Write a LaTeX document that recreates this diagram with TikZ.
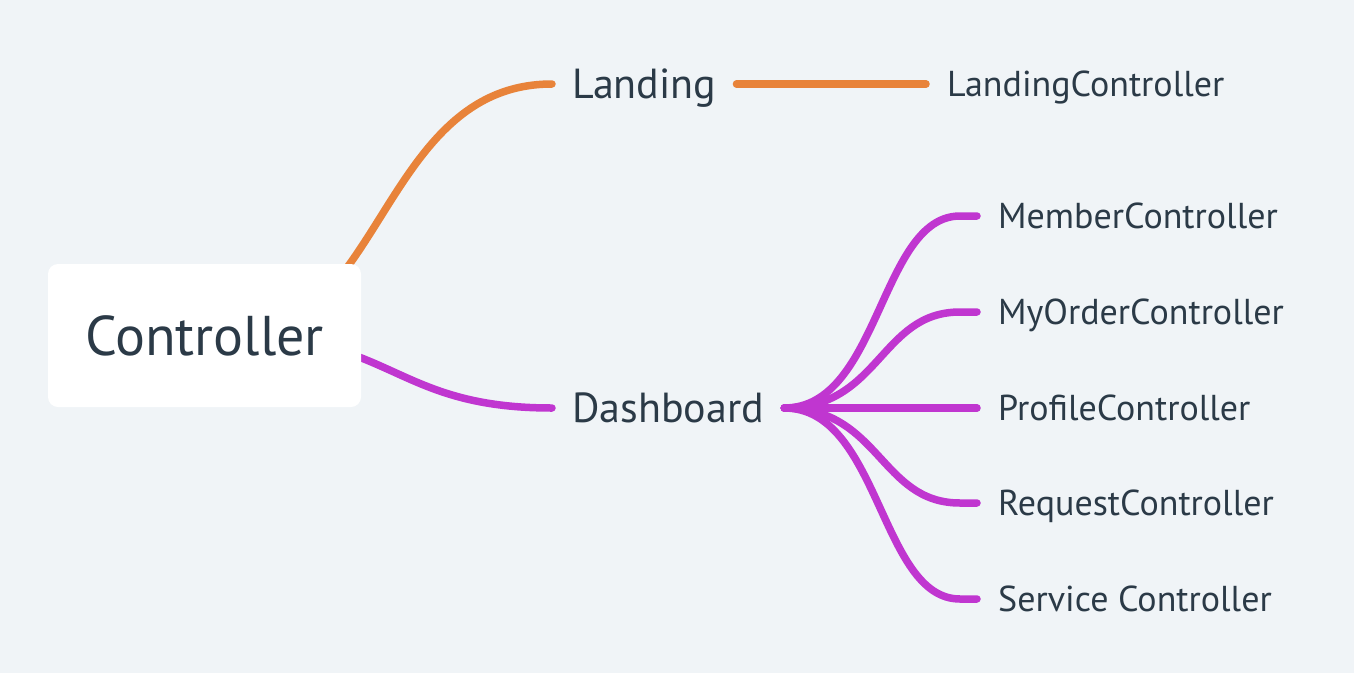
\documentclass[tikz,border=0pt]{standalone}
\usepackage{fontspec}
\setmainfont{PT Sans}
\usetikzlibrary{calc}
\pgfdeclarelayer{bgfill}
\pgfdeclarelayer{background}
\pgfsetlayers{bgfill,background,main}
\definecolor{bg}{HTML}{F0F4F7}
\definecolor{txt}{HTML}{2B3A47}
\definecolor{orangeL}{HTML}{E8833A}
\definecolor{magL}{HTML}{C036D0}
\tikzset{
  rootbox/.style={fill=white, rounded corners=10pt, minimum width=313pt, minimum height=143pt, inner sep=0pt,
    text=txt, font=\fontsize{56}{60}\selectfont, text height=39pt, text depth=0pt},
  branch/.style={anchor=west, inner xsep=20pt, inner ysep=0pt, text=txt,
    font=\fontsize{42}{46}\selectfont, text height=29pt, text depth=0pt},
  leaf/.style={anchor=west, inner xsep=21pt, inner ysep=0pt, text=txt,
    font=\fontsize{36}{40}\selectfont, text height=25pt, text depth=0pt},
  olink/.style={draw=orangeL, line width=7.5pt, line cap=round},
  mlink/.style={draw=magL, line width=7.5pt, line cap=round},
}
\begin{document}
\begin{tikzpicture}[x=1pt,y=-1pt]
\useasboundingbox (0,0) rectangle (1354,672);
\begin{pgfonlayer}{bgfill}
\fill[bg] (-3,-3) rectangle (1357,675);
\end{pgfonlayer}
\node[rootbox] (root) at (204.5,335.5) {Controller};
\coordinate (rootc) at (235,336);
\node[branch] (landing) at (552,84) {Landing};
\node[branch] (dash) at (552,408) {Dashboard};
\node[leaf] (lc) at (926,84) {LandingController};
\node[leaf] (member) at (977,216) {MemberController};
\node[leaf] (myorder) at (977,312) {MyOrderController};
\node[leaf] (profile) at (977,408) {ProfileController};
\node[leaf] (request) at (977,503) {RequestController};
\node[leaf] (service) at (977,599) {Service Controller};
\begin{pgfonlayer}{background}
\draw[olink] (rootc) .. controls (382,336) and (382,84) .. (landing.west);
\draw[mlink] (rootc) .. controls (394,336) and (394,408) .. (dash.west);
\end{pgfonlayer}
\draw[olink] (landing.east) -- (lc.west);
\foreach \n/\y in {member/216,myorder/312,request/503,service/599}{
  \draw[mlink] (dash.east) .. controls (880,408) and (880,\y) .. (960,\y) -- (\n.west);
}
\draw[mlink] (dash.east) -- (profile.west);
\end{tikzpicture}
\end{document}
